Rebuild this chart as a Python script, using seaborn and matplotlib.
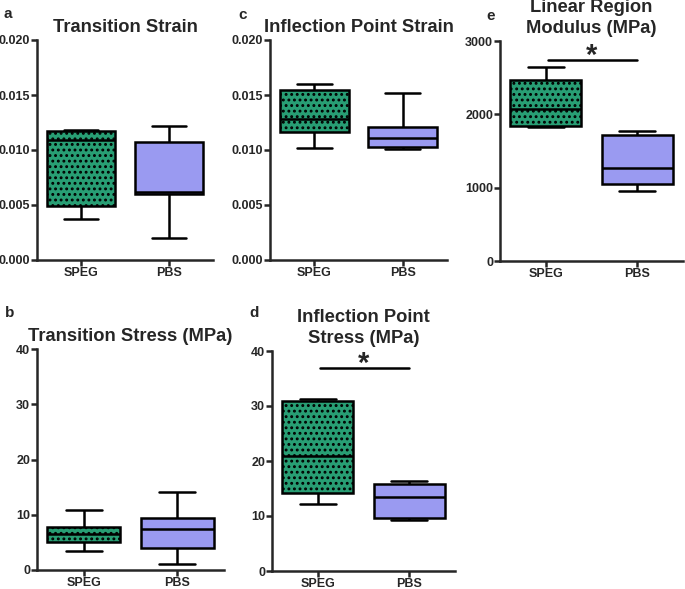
import pandas as pd
import numpy as np
import matplotlib
matplotlib.use('Agg')
import matplotlib.pyplot as plt
from matplotlib.ticker import FormatStrFormatter
import seaborn as sns

# five-number summaries: min, q1, median, q3, max
groups = ['SPEG', 'PBS']

trans_strain_speg = [0.0037, 0.0049, 0.0109, 0.0117, 0.0118]
trans_strain_pbs = [0.0020, 0.0060, 0.0062, 0.0107, 0.0122]

infl_strain_speg = [0.0102, 0.0116, 0.0128, 0.0155, 0.0160]
infl_strain_pbs = [0.0101, 0.0103, 0.0111, 0.0121, 0.0152]

modulus_speg = [1830, 1840, 2070, 2470, 2650]
modulus_pbs = [960, 1050, 1270, 1720, 1770]

trans_stress_speg = [3.5, 5.0, 6.5, 7.8, 10.8]
trans_stress_pbs = [1.0, 4.0, 7.5, 9.5, 14.2]

infl_stress_speg = [12.2, 14.2, 21.0, 31.0, 31.3]
infl_stress_pbs = [9.2, 9.6, 13.4, 15.8, 16.3]

green = '#14b27a'
purple = '#8c8cff'

sns.set_style('ticks')
plt.rcParams['font.family'] = ['Liberation Sans', 'DejaVu Sans']
plt.rcParams['font.weight'] = 'bold'
plt.rcParams['hatch.color'] = 'black'
plt.rcParams['hatch.linewidth'] = 1.3

W, H = 685, 589
fig = plt.figure(figsize=(W / 100, H / 100), dpi=100)


def make_ax(left, right, top, bottom):
    return fig.add_axes([left / W, 1 - bottom / H, (right - left) / W, (bottom - top) / H])


def panel(ax, speg, pbs, ymax, step, fmt, title, letter, letter_xy, sig=None):
    df = pd.DataFrame({'group': [groups[0]] * len(speg) + [groups[1]] * len(pbs),
                       'value': speg + pbs})
    sns.boxplot(data=df, x='group', y='value', hue='group', palette=[green, purple],
                whis=(0, 100), width=0.78, linewidth=1.8, linecolor='black',
                legend=False, ax=ax)
    ax.patches[0].set_hatch('...')
    ax.set_xlim(-0.5, 1.5)
    ax.set_ylim(0, ymax)
    ax.set_yticks(np.arange(0, ymax + step / 2, step))
    ax.yaxis.set_major_formatter(FormatStrFormatter(fmt))
    ax.set_xlabel('')
    ax.set_ylabel('')
    sns.despine(ax=ax)
    for s in ['left', 'bottom']:
        ax.spines[s].set_linewidth(1.8)
    ax.tick_params(width=1.8, length=4, labelsize=9, pad=1)
    for lab in ax.get_xticklabels() + ax.get_yticklabels():
        lab.set_fontweight('bold')
    ax.set_title(title, fontsize=13.2, fontweight='bold', pad=6, linespacing=1.25)
    fig.text(letter_xy[0] / W, 1 - letter_xy[1] / H, letter, fontsize=11,
             fontweight='bold', ha='left', va='center')
    if sig is not None:
        ax.plot([0.03, 1.0], [sig, sig], color='black', lw=1.8, clip_on=False)
        ax.annotate('*', (0.5, sig), xytext=(0, -2.5), textcoords='offset points',
                    ha='center', va='baseline', fontsize=21, fontweight='bold',
                    annotation_clip=False)


ax_a = make_ax(37, 213, 40, 260)
panel(ax_a, trans_strain_speg, trans_strain_pbs, 0.020, 0.005, '%.3f',
      'Transition Strain', 'a', (4, 14))

ax_c = make_ax(270, 447, 40, 260)
panel(ax_c, infl_strain_speg, infl_strain_pbs, 0.020, 0.005, '%.3f',
      'Inflection Point Strain', 'c', (238, 15))

ax_e = make_ax(500, 683, 41, 261)
panel(ax_e, modulus_speg, modulus_pbs, 3000, 1000, '%d',
      'Linear Region\nModulus (MPa)', 'e', (486, 16), sig=2740)

ax_b = make_ax(37, 224, 349, 570)
panel(ax_b, trans_stress_speg, trans_stress_pbs, 40, 10, '%d',
      'Transition Stress (MPa)', 'b', (5, 313))

ax_d = make_ax(272, 455, 351, 571)
panel(ax_d, infl_stress_speg, infl_stress_pbs, 40, 10, '%d',
      'Inflection Point\nStress (MPa)', 'd', (249, 313), sig=36.9)

fig.savefig('out.png', dpi=100)
